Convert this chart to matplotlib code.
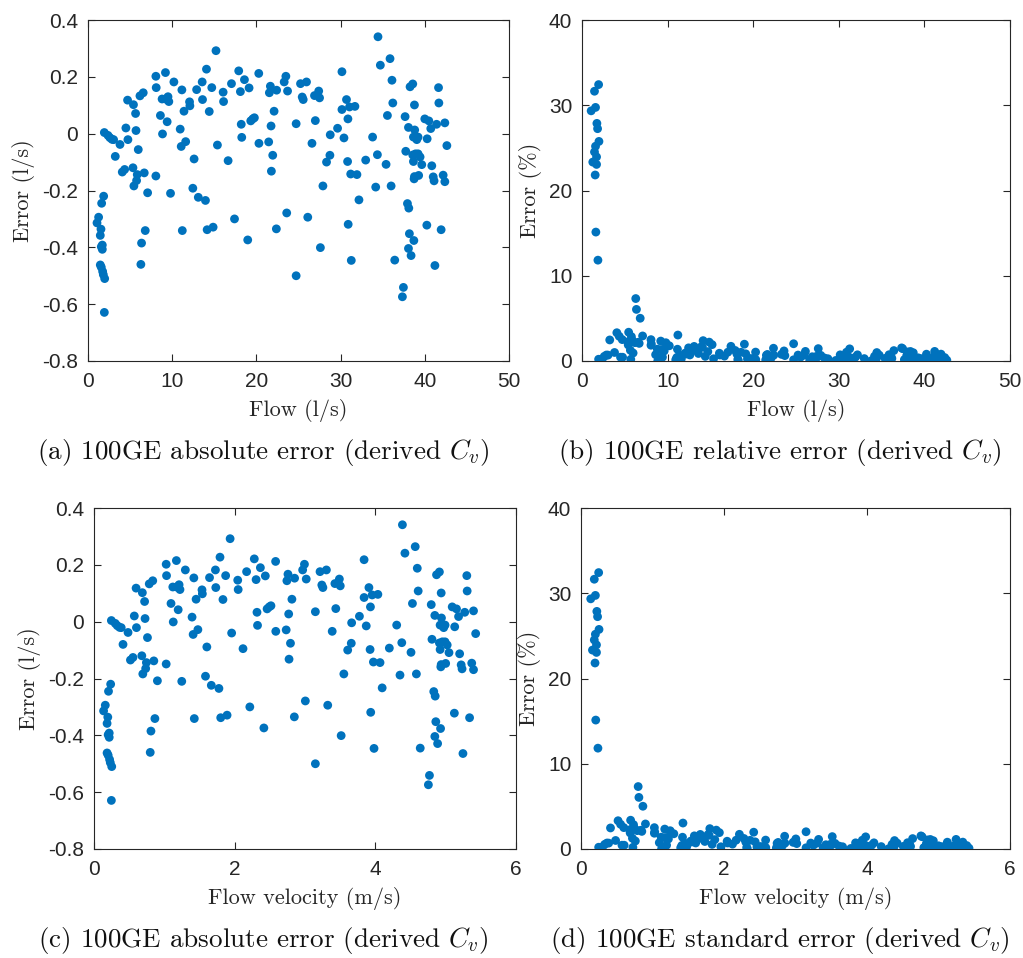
import numpy as np
import matplotlib
matplotlib.use("Agg")
import matplotlib.pyplot as plt

# 100GE meter, derived Cv: flow (l/s) and absolute error (l/s)
flow = np.array([
    1.07, 1.26, 1.46, 1.54, 1.58, 1.70, 1.70, 1.62, 1.86, 1.46, 1.58, 1.74, 1.82, 1.98, 1.94,
    1.94, 2.37, 2.60, 2.85, 3.04, 3.24, 3.80, 4.07, 4.35, 4.50, 4.70, 4.74, 5.34, 5.40, 5.45,
    5.65, 5.70, 5.77, 5.85, 5.97, 6.17, 6.36, 6.28, 6.56, 6.68, 6.80, 7.08, 8.06, 8.06, 8.10,
    8.60, 8.80, 8.85, 9.20, 9.20, 9.40, 9.50, 9.60, 9.80, 10.20, 10.95, 11.07, 11.15, 11.20, 11.40,
    11.60, 12.06, 12.10, 12.45, 12.60, 12.90, 13.10, 13.56, 13.60, 13.95, 14.07, 14.15, 14.40, 14.70, 14.86,
    15.20, 15.37, 16.05, 16.10, 16.64, 17.04, 17.40, 17.90, 18.10, 18.20, 18.26, 18.58, 18.97, 19.13, 19.33,
    19.57, 19.76, 20.28, 20.30, 21.46, 21.54, 21.66, 21.74, 21.78, 21.94, 22.10, 22.37, 22.40, 23.30, 23.50,
    23.60, 23.70, 24.72, 24.72, 25.24, 25.95, 26.10, 26.60, 25.44, 25.56, 27.00, 26.90, 27.40, 27.50, 27.60,
    27.90, 28.33, 28.73, 28.77, 29.64, 30.16, 30.16, 30.40, 30.70, 30.83, 30.87, 30.90, 31.06, 31.20, 31.27,
    31.70, 31.94, 32.18, 32.98, 33.80, 34.17, 34.37, 34.44, 34.72, 35.40, 35.56, 35.87, 36.00, 36.10, 36.20,
    36.43, 37.34, 37.46, 37.66, 37.74, 37.94, 38.10, 38.06, 38.17, 38.06, 38.25, 38.37, 38.57, 38.57, 38.65,
    38.65, 38.70, 38.77, 38.77, 38.73, 38.80, 38.90, 39.05, 39.20, 39.20, 39.27, 39.44, 39.64, 40.00, 40.24,
    40.28, 40.48, 40.71, 40.83, 41.00, 41.10, 41.20, 41.40, 41.63, 41.67, 41.94, 42.18, 42.38, 42.38, 42.62,
])
abs_err = np.array([
    -0.314, -0.294, -0.358, -0.336, -0.398, -0.392, -0.407, -0.245, -0.220, -0.462, -0.470, -0.485, -0.496, -0.510, -0.629,
    0.004, -0.006, -0.014, -0.020, -0.021, -0.080, -0.038, -0.135, -0.126, 0.020, 0.118, -0.021, -0.120, 0.102, -0.184,
    0.071, 0.011, -0.165, -0.144, -0.056, 0.133, -0.385, -0.460, 0.144, -0.138, -0.341, -0.208, -0.149, 0.202, 0.162,
    0.064, 0.122, -0.001, 0.215, 0.122, 0.042, 0.130, 0.113, -0.210, 0.182, 0.016, -0.045, 0.154, -0.341, 0.079,
    -0.028, 0.112, 0.098, -0.192, -0.089, 0.155, -0.224, 0.182, 0.120, -0.235, 0.227, -0.338, 0.078, 0.162, -0.329,
    0.292, -0.040, 0.146, 0.113, -0.095, 0.176, -0.300, 0.221, 0.148, 0.033, -0.013, 0.190, -0.374, 0.161, 0.045,
    0.052, 0.056, 0.212, -0.034, -0.029, 0.144, 0.167, 0.027, -0.132, -0.076, 0.079, -0.335, 0.153, 0.182, 0.202,
    -0.279, 0.150, 0.035, -0.500, 0.176, 0.182, -0.294, -0.034, 0.129, 0.120, 0.046, 0.134, 0.150, 0.126, -0.401,
    -0.184, -0.100, -0.076, -0.004, 0.019, 0.218, 0.085, -0.015, 0.120, -0.098, 0.052, -0.319, 0.094, -0.142, -0.446,
    0.096, -0.144, -0.233, -0.093, -0.012, -0.188, -0.074, 0.341, 0.241, -0.108, 0.064, 0.264, -0.184, 0.188, 0.108,
    -0.445, -0.574, -0.541, 0.060, -0.062, -0.246, -0.262, 0.022, -0.352, -0.404, 0.165, -0.429, 0.175, -0.075, -0.012,
    -0.098, -0.376, 0.101, -0.151, -0.159, 0.013, -0.071, -0.021, -0.012, -0.071, -0.147, -0.082, -0.109, 0.052, -0.322,
    -0.018, 0.045, 0.018, -0.113, -0.152, -0.166, -0.464, 0.033, 0.162, 0.108, -0.338, -0.146, 0.038, -0.169, -0.042,
])

pipe_diameter = 0.1  # m, 100GE
velocity = flow * 1e-3 / (np.pi * (pipe_diameter / 2) ** 2)
rel_err = np.abs(abs_err) / flow * 100

captions = [
    r"(a) 100GE absolute error (derived $C_v$)",
    r"(b) 100GE relative error (derived $C_v$)",
    r"(c) 100GE absolute error (derived $C_v$)",
    r"(d) 100GE standard error (derived $C_v$)",
]

plt.rcParams['mathtext.fontset'] = 'cm'
plt.rcParams['axes.unicode_minus'] = False

W, H = 1023, 958
fig = plt.figure(figsize=(W / 100, H / 100), dpi=100)

def px_axes(l, t, r, b):
    return fig.add_axes([l / W, 1 - b / H, (r - l) / W, (b - t) / H])

axes = [
    px_axes(88, 20, 509, 361),
    px_axes(582, 20, 1010, 361),
    px_axes(94, 508, 516, 849),
    px_axes(581, 508, 1010, 849),
]

blue = '#0072BD'
dark = '#262626'
serif = 'cmr10'

panels = [
    (flow, abs_err, 'Flow (l/s)', 'Error (l/s)', (0, 50), np.arange(0, 51, 10), (-0.8, 0.4), np.arange(-0.8, 0.41, 0.2)),
    (flow, rel_err, 'Flow (l/s)', 'Error (%)', (0, 50), np.arange(0, 51, 10), (0, 40), np.arange(0, 41, 10)),
    (velocity, abs_err, 'Flow velocity (m/s)', 'Error (l/s)', (0, 6), np.arange(0, 7, 2), (-0.8, 0.4), np.arange(-0.8, 0.41, 0.2)),
    (velocity, rel_err, 'Flow velocity (m/s)', 'Error (%)', (0, 6), np.arange(0, 7, 2), (0, 40), np.arange(0, 41, 10)),
]

for ax, (x, y, xl, yl, xlim, xt, ylim, yt) in zip(axes, panels):
    ax.scatter(x, y, s=40, color=blue, edgecolors='none', zorder=3)
    ax.set_xlim(*xlim)
    ax.set_ylim(*ylim)
    ax.set_xticks(xt)
    ax.set_yticks(yt)
    if ylim[0] < 0:
        ax.set_yticklabels(['%g' % (round(v, 1) + 0.0) if abs(v) > 1e-9 else '0' for v in yt])
    ax.tick_params(direction='in', top=True, right=True, length=5, width=0.8,
                   colors=dark, labelsize=15)
    ax.tick_params(axis='x', pad=8)
    ax.tick_params(axis='y', pad=7)
    for lab in ax.get_xticklabels() + ax.get_yticklabels():
        lab.set_fontfamily('Liberation Sans')
    for sp in ax.spines.values():
        sp.set_color(dark)
        sp.set_linewidth(0.8)
    ax.set_xlabel(xl, fontfamily=serif, fontsize=16, color=dark, labelpad=6)
    ax.set_ylabel(yl, fontfamily=serif, fontsize=16, color=dark, labelpad=5)

cap_x = [263, 780, 263, 780]
cap_y = [452, 452, 940, 940]
for cx, cy, cap in zip(cap_x, cap_y, captions):
    fig.text(cx / W, 1 - cy / H, cap, ha='center', va='center',
             fontfamily=serif, fontsize=19.5, color='#111111')

fig.savefig('out.png', dpi=100)
